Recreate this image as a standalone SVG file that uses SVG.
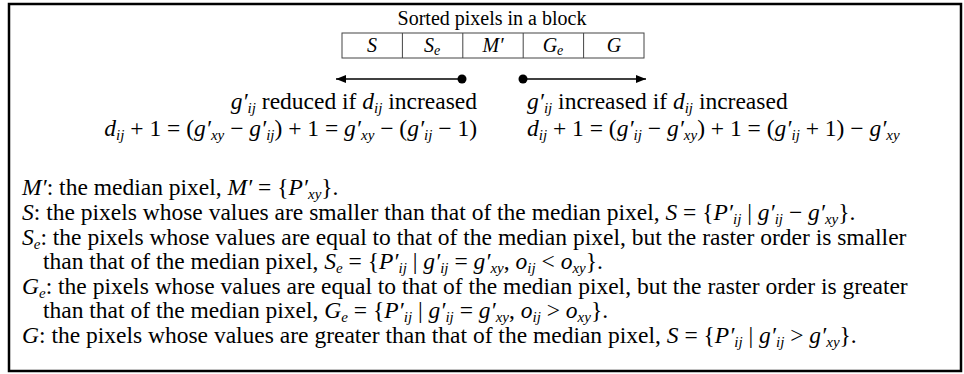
<svg xmlns="http://www.w3.org/2000/svg" width="964" height="374" viewBox="0 0 964 374">
<style>
.t{font-family:"Liberation Serif","Times New Roman",serif;font-size:23.5px;fill:#000}
.h{font-size:20px}
.i{font-style:italic}
.sb{font-size:15px}
.hs{font-size:14px}
.cell{fill:none;stroke:#444;stroke-width:1}
.arr{stroke:#000;stroke-width:1.6;fill:none}
</style>
<defs>
<marker id="ah" viewBox="0 0 10 8" refX="10" refY="4" markerWidth="10" markerHeight="8" markerUnits="userSpaceOnUse" orient="auto">
<path d="M0,0 L10,4 L0,8 z" fill="#000"/>
</marker>
</defs>
<rect x="9" y="4" width="952" height="367" fill="#fff" stroke="#000" stroke-width="2.5"/>
<g id="title"><text class="t h" x="492" y="25" text-anchor="middle">Sorted pixels in a block</text></g>
<g id="block">
<rect class="cell" x="342" y="33" width="302" height="25"/>
<line class="cell" x1="402.4" y1="33" x2="402.4" y2="58"/>
<line class="cell" x1="462.8" y1="33" x2="462.8" y2="58"/>
<line class="cell" x1="523.2" y1="33" x2="523.2" y2="58"/>
<line class="cell" x1="583.6" y1="33" x2="583.6" y2="58"/>
<text class="t h i" x="372" y="52" text-anchor="middle">S</text>
<text class="t h i" x="432" y="52" text-anchor="middle">S<tspan class="hs" dy="3">e</tspan></text>
<text class="t h i" x="493" y="52" text-anchor="middle">M′</text>
<text class="t h i" x="553" y="52" text-anchor="middle">G<tspan class="hs" dy="3">e</tspan></text>
<text class="t h i" x="614" y="52" text-anchor="middle">G</text>
</g>
<g id="connectors">
<line class="arr" x1="462" y1="79" x2="336" y2="79" marker-end="url(#ah)"/>
<circle cx="462" cy="79" r="4.5" fill="#000"/>
<line class="arr" x1="523" y1="79" x2="646" y2="79" marker-end="url(#ah)"/>
<circle cx="523" cy="79" r="4.5" fill="#000"/>
</g>
<g id="left-rule">
<text class="t" x="477" y="109" text-anchor="end"><tspan class="i">g′</tspan><tspan class="i sb" dy="4">ij</tspan><tspan dy="-4"> reduced if </tspan><tspan class="i">d</tspan><tspan class="i sb" dy="4">ij</tspan><tspan dy="-4"> increased</tspan></text>
<text class="t" x="477" y="136" text-anchor="end"><tspan class="i">d</tspan><tspan class="i sb" dy="4">ij</tspan><tspan dy="-4"> + 1 = (</tspan><tspan class="i">g′</tspan><tspan class="i sb" dy="4">xy</tspan><tspan dy="-4"> − </tspan><tspan class="i">g′</tspan><tspan class="i sb" dy="4">ij</tspan><tspan dy="-4">) + 1 = </tspan><tspan class="i">g′</tspan><tspan class="i sb" dy="4">xy</tspan><tspan dy="-4"> − (</tspan><tspan class="i">g′</tspan><tspan class="i sb" dy="4">ij</tspan><tspan dy="-4"> − 1)</tspan></text>
</g>
<g id="right-rule">
<text class="t" x="527" y="109"><tspan class="i">g′</tspan><tspan class="i sb" dy="4">ij</tspan><tspan dy="-4"> increased if </tspan><tspan class="i">d</tspan><tspan class="i sb" dy="4">ij</tspan><tspan dy="-4"> increased</tspan></text>
<text class="t" x="527" y="136"><tspan class="i">d</tspan><tspan class="i sb" dy="4">ij</tspan><tspan dy="-4"> + 1 = (</tspan><tspan class="i">g′</tspan><tspan class="i sb" dy="4">ij</tspan><tspan dy="-4"> − </tspan><tspan class="i">g′</tspan><tspan class="i sb" dy="4">xy</tspan><tspan dy="-4">) + 1 = (</tspan><tspan class="i">g′</tspan><tspan class="i sb" dy="4">ij</tspan><tspan dy="-4"> + 1) − </tspan><tspan class="i">g′</tspan><tspan class="i sb" dy="4">xy</tspan></text>
</g>
<g id="legend">
<text class="t" x="22" y="195"><tspan class="i">M′</tspan>: the median pixel, <tspan class="i">M′</tspan> = {<tspan class="i">P′</tspan><tspan class="i sb" dy="4">xy</tspan><tspan dy="-4">}.</tspan></text>
<text class="t" x="22" y="220"><tspan class="i">S</tspan>: the pixels whose values are smaller than that of the median pixel, <tspan class="i">S</tspan> = {<tspan class="i">P′</tspan><tspan class="i sb" dy="4">ij</tspan><tspan dy="-4"> | </tspan><tspan class="i">g′</tspan><tspan class="i sb" dy="4">ij</tspan><tspan dy="-4"> − </tspan><tspan class="i">g′</tspan><tspan class="i sb" dy="4">xy</tspan><tspan dy="-4">}.</tspan></text>
<text class="t" x="22" y="245"><tspan class="i">S</tspan><tspan class="i sb" dy="4">e</tspan><tspan dy="-4">: the pixels whose values are equal to that of the median pixel, but the raster order is smaller</tspan></text>
<text class="t" x="43" y="269">than that of the median pixel, <tspan class="i">S</tspan><tspan class="i sb" dy="4">e</tspan><tspan dy="-4"> = {</tspan><tspan class="i">P′</tspan><tspan class="i sb" dy="4">ij</tspan><tspan dy="-4"> | </tspan><tspan class="i">g′</tspan><tspan class="i sb" dy="4">ij</tspan><tspan dy="-4"> = </tspan><tspan class="i">g′</tspan><tspan class="i sb" dy="4">xy</tspan><tspan dy="-4">, </tspan><tspan class="i">o</tspan><tspan class="i sb" dy="4">ij</tspan><tspan dy="-4"> &lt; </tspan><tspan class="i">o</tspan><tspan class="i sb" dy="4">xy</tspan><tspan dy="-4">}.</tspan></text>
<text class="t" x="22" y="294"><tspan class="i">G</tspan><tspan class="i sb" dy="4">e</tspan><tspan dy="-4">: the pixels whose values are equal to that of the median pixel, but the raster order is greater</tspan></text>
<text class="t" x="43" y="318">than that of the median pixel, <tspan class="i">G</tspan><tspan class="i sb" dy="4">e</tspan><tspan dy="-4"> = {</tspan><tspan class="i">P′</tspan><tspan class="i sb" dy="4">ij</tspan><tspan dy="-4"> | </tspan><tspan class="i">g′</tspan><tspan class="i sb" dy="4">ij</tspan><tspan dy="-4"> = </tspan><tspan class="i">g′</tspan><tspan class="i sb" dy="4">xy</tspan><tspan dy="-4">, </tspan><tspan class="i">o</tspan><tspan class="i sb" dy="4">ij</tspan><tspan dy="-4"> &gt; </tspan><tspan class="i">o</tspan><tspan class="i sb" dy="4">xy</tspan><tspan dy="-4">}.</tspan></text>
<text class="t" x="22" y="343"><tspan class="i">G</tspan>: the pixels whose values are greater than that of the median pixel, <tspan class="i">S</tspan> = {<tspan class="i">P′</tspan><tspan class="i sb" dy="4">ij</tspan><tspan dy="-4"> | </tspan><tspan class="i">g′</tspan><tspan class="i sb" dy="4">ij</tspan><tspan dy="-4"> &gt; </tspan><tspan class="i">g′</tspan><tspan class="i sb" dy="4">xy</tspan><tspan dy="-4">}.</tspan></text>
</g>
</svg>
